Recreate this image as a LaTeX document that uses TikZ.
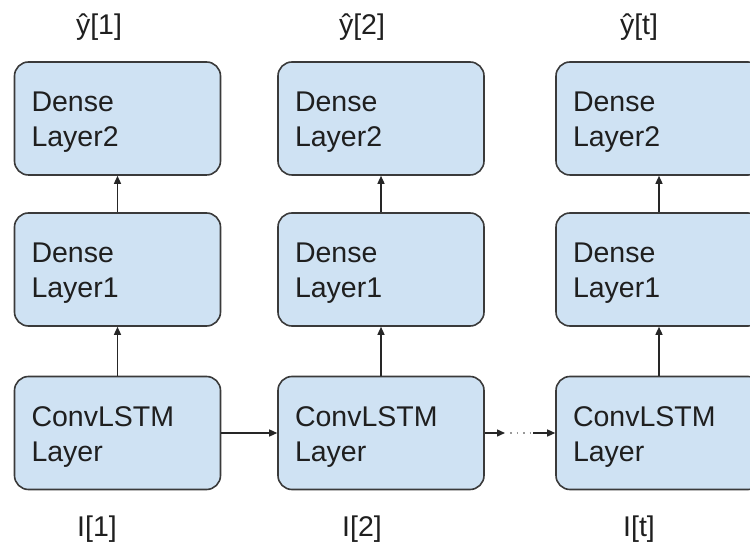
\documentclass[tikz,border=0pt]{standalone}
\usepackage{fontspec}
\setmainfont{Liberation Sans}
\usetikzlibrary{arrows.meta}
\definecolor{boxfill}{HTML}{CFE2F3}
\definecolor{boxline}{HTML}{3A3A3A}
\begin{document}
\begin{tikzpicture}[x=1pt,y=1pt,
  layer/.style={draw=boxline, line width=1.6pt, fill=boxfill, rounded corners=14pt,
    text width=172pt, inner xsep=17pt, inner ysep=0pt, minimum height=113pt,
    align=left, font=\fontsize{28.5}{35}\selectfont, text=black!88,
    execute at begin node={\rule{0pt}{27pt}}},
  conn/.style={line width=1.4pt, draw=black!85, -{Triangle[length=8pt,width=7pt]}},
  dotline/.style={line width=1.4pt, draw=gray!80, dash pattern=on 1.5pt off 5pt, shorten <=5pt},
  lbl/.style={font=\fontsize{28.5}{35}\selectfont, anchor=base, inner sep=0pt, text=black!88}]
\useasboundingbox (0,0) rectangle (750,549);
\clip (0,0) rectangle (750,549);
% column 1
\node[layer] (ta) at (117.5,430.5) {Dense\\Layer2};
\node[layer] (ma) at (117.5,279.5) {Dense\\Layer1};
\node[layer] (ba) at (117.5,116) {ConvLSTM\\Layer};
% column 2
\node[layer] (tb) at (381,430.5) {Dense\\Layer2};
\node[layer] (mb) at (381,279.5) {Dense\\Layer1};
\node[layer] (bb) at (381,116) {ConvLSTM\\Layer};
% column 3
\node[layer] (tc) at (659,430.5) {Dense\\Layer2};
\node[layer] (mc) at (659,279.5) {Dense\\Layer1};
\node[layer] (bc) at (659,116) {ConvLSTM\\Layer};
% vertical arrows
\draw[conn] (ba.north) -- (ma.south);
\draw[conn] (ma.north) -- (ta.south);
\draw[conn] (bb.north) -- (mb.south);
\draw[conn] (mb.north) -- (tb.south);
\draw[conn] (bc.north) -- (mc.south);
\draw[conn] (mc.north) -- (tc.south);
% horizontal arrows
\draw[conn] (ba.east) -- (bb.west);
\coordinate (p1) at (505,116);
\coordinate (p2) at (533,116);
\draw[conn] (bb.east) -- (p1);
\draw[dotline] (p1) -- (p2);
\draw[conn] (p2) -- (bc.west);
% labels
\node[lbl] (y1) at (99,514) {ŷ[1]};
\node[lbl] (y2) at (362,514) {ŷ[2]};
\node[lbl] (y3) at (639,514) {ŷ[t]};
\node[lbl] (i1) at (97,12) {I[1]};
\node[lbl] (i2) at (362,12) {I[2]};
\node[lbl] (i3) at (639,12) {I[t]};
\end{tikzpicture}
\end{document}
